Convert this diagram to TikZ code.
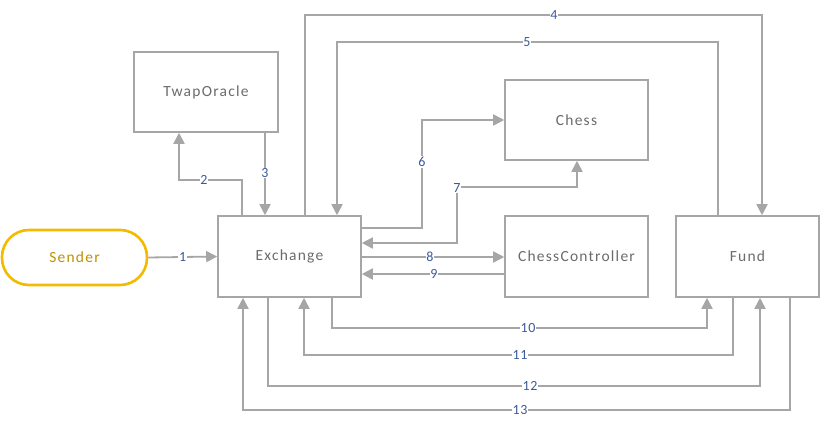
\documentclass[tikz,border=0pt]{standalone}
\usepackage{fontspec}
\setmainfont{Carlito}
\newfontfamily\boxfont[LetterSpace=8]{Carlito}
\newfontfamily\lblfont[LetterSpace=4]{Carlito}
\usetikzlibrary{arrows.meta}
\definecolor{lgray}{HTML}{A6A6A6}
\definecolor{tgray}{HTML}{6B6B6B}
\definecolor{gold}{HTML}{F2BA00}
\definecolor{goldtxt}{HTML}{BF9000}
\definecolor{lblue}{HTML}{3B5B9B}
\tikzset{
  box/.style={draw=lgray,line width=1.6pt,minimum width=143pt,minimum height=81pt,inner sep=0pt,
    text=tgray,font=\boxfont\fontsize{15.5}{17}\selectfont},
  arr/.style={draw=lgray,line width=1.8pt,-{Triangle[length=11pt,width=11pt]}},
  darr/.style={draw=lgray,line width=1.8pt,{Triangle[length=11pt,width=11pt]}-{Triangle[length=11pt,width=11pt]}},
  lbl/.style={fill=white,text=lblue,inner sep=0.8pt,font=\lblfont\fontsize{14}{15}\selectfont},
}
\begin{document}
\begin{tikzpicture}[x=1pt,y=-1pt]
\useasboundingbox (0,0) rectangle (822,427);
\node[box,minimum width=145pt,minimum height=55pt,rounded corners=27pt,draw=gold,line width=2.6pt,text=goldtxt] (sender) at (74.5,257.5) {Sender};
\node[box] (ex) at (289.5,256.5) {Exchange};
\node[box,minimum width=144pt,minimum height=80pt] (twap) at (206,92) {TwapOracle};
\node[box,minimum height=80pt] (chess) at (576.5,120) {Chess};
\node[box] (cc) at (576.5,256.5) {ChessController};
\node[box] (fund) at (747.5,256.5) {Fund};
% 1
\draw[arr] (sender.east) -- (ex.west) node[lbl,pos=0.5] (l1) {1};
% 2
\draw[arr] (242,0 |- ex.north) |- (179,180) -- (twap.south -| 179,0);
\node[lbl] (l2) at (204,180) {2};
% 3
\draw[arr] (265,0 |- twap.south) -- (265,0 |- ex.north);
\node[lbl] (l3) at (265,173) {3};
% 4
\draw[arr] (305,0 |- ex.north) |- (762,15) -- (762,0 |- fund.north);
\node[lbl] (l4) at (554,15) {4};
% 5
\draw[arr] (718,0 |- fund.north) |- (337,42) -- (337,0 |- ex.north);
\node[lbl] (l5) at (527,42) {5};
% 6
\draw[arr] (ex.east |- 0,228) -| (422,120) -- (chess.west |- 0,120);
\node[lbl] (l6) at (422,162) {6};
% 7
\draw[darr] (577,0 |- chess.south) |- (457,187) |- (ex.east |- 0,243);
\node[lbl] (l7) at (457,188) {7};
% 8
\draw[arr] (ex.east |- 0,257) -- (cc.west |- 0,257);
\node[lbl] (l8) at (430,257) {8};
% 9
\draw[arr] (cc.west |- 0,274) -- (ex.east |- 0,274);
\node[lbl] (l9) at (434,274) {9};
% 10
\draw[arr] (332,0 |- ex.south) |- (707,328) -- (707,0 |- fund.south);
\node[lbl] (l10) at (528,328) {10};
% 11
\draw[arr] (733,0 |- fund.south) |- (304,355) -- (304,0 |- ex.south);
\node[lbl] (l11) at (520,355) {11};
% 12
\draw[arr] (268,0 |- ex.south) |- (760,386) -- (760,0 |- fund.south);
\node[lbl] (l12) at (530,386) {12};
% 13
\draw[arr] (790,0 |- fund.south) |- (243,410) -- (243,0 |- ex.south);
\node[lbl] (l13) at (520,410) {13};
\end{tikzpicture}
\end{document}
